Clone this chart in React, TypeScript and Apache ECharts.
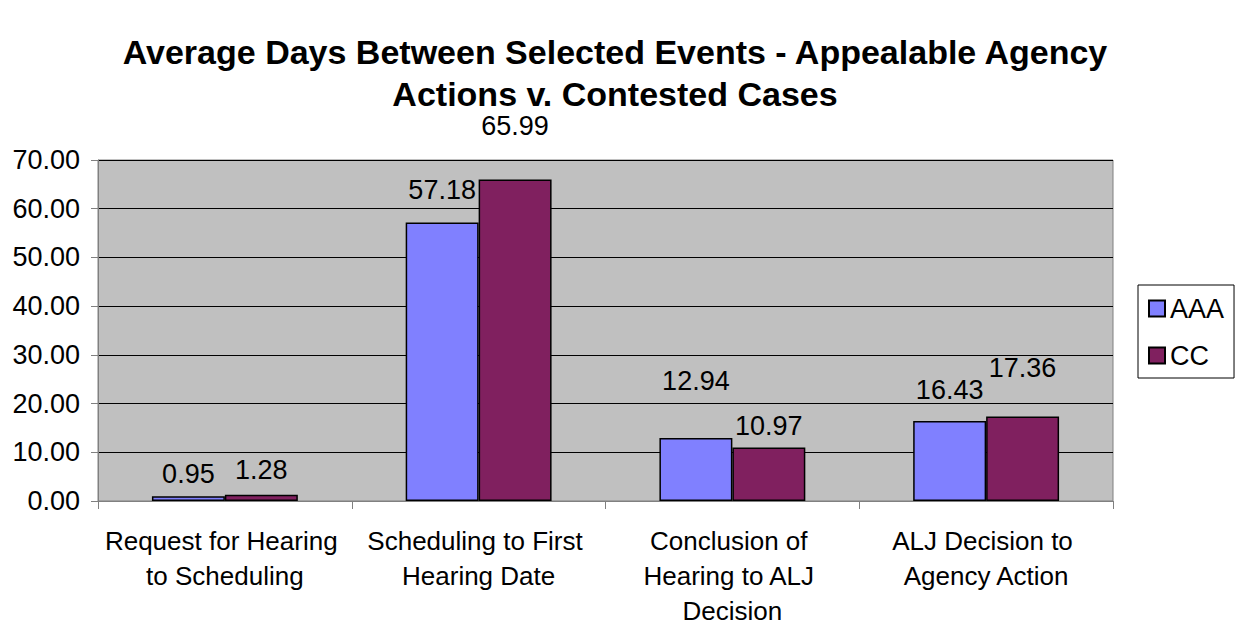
import React, { useEffect, useRef } from "react";
import * as echarts from "echarts";

const titleText = "Average Days Between Selected Events - Appealable Agency\nActions v. Contested Cases";
const categories = [
  "Request for Hearing to Scheduling",
  "Scheduling to First Hearing Date",
  "Conclusion of Hearing to ALJ Decision",
  "ALJ Decision to Agency Action",
];
const seriesNames = ["AAA", "CC"];
const aaaValues = [0.95, 57.18, 12.94, 16.43];
const ccValues = [1.28, 65.99, 10.97, 17.36];
// vertical nudges of the data labels, as placed in the original
const aaaLabelShift = [-4, -14, -38, -12];
const ccLabelShift = [-6, -35, -3, -30];

const FONT = "Arial, 'Liberation Sans', sans-serif";

export default function App() {
  const ref = useRef<HTMLDivElement>(null);
  useEffect(() => {
    document.body.style.margin = "0";
    if (!ref.current) return;
    const chart = echarts.init(ref.current, null, { renderer: "svg" });
    const mk = (vals: number[], shifts: number[]) =>
      vals.map((v, i) => ({ value: v, label: { offset: [0, shifts[i]] } }));
    const labelStyle = {
      show: true,
      position: "top",
      fontFamily: FONT,
      fontSize: 27,
      color: "#000",
      formatter: (p: any) => Number(p.value).toFixed(2),
    };
    chart.setOption({
      animation: false,
      backgroundColor: "#ffffff",
      textStyle: { fontFamily: FONT },
      title: {
        text: titleText,
        left: 615,
        top: 31,
        padding: 0,
        textAlign: "center",
        textStyle: {
          fontFamily: FONT,
          fontSize: 34,
          fontWeight: "bold",
          color: "#000",
          lineHeight: 42,
        },
      },
      legend: {
        orient: "vertical",
        left: 1138,
        top: 285,
        padding: [10, 10, 9, 10],
        itemWidth: 16,
        itemHeight: 16,
        itemGap: 20,
        itemTextGap: 9,
        icon: "rect",
        borderColor: "#000",
        borderWidth: 1,
        backgroundColor: "#fff",
        textStyle: { fontFamily: FONT, fontSize: 27, color: "#000" },
        data: seriesNames,
      },
      grid: {
        left: 98,
        right: 130,
        top: 160,
        bottom: 126,
        outerBoundsMode: "none",
        containLabel: false,
        show: true,
        backgroundColor: "#C0C0C0",
        borderColor: "#808080",
        borderWidth: 1,
      },
      xAxis: {
        type: "category",
        data: categories,
        axisLine: { lineStyle: { color: "#808080", width: 1 } },
        axisTick: { show: true, length: 8, lineStyle: { color: "#808080" } },
        axisLabel: {
          fontFamily: FONT,
          fontSize: 26,
          lineHeight: 35,
          color: "#000",
          margin: 22,
          width: 250,
          overflow: "break",
          interval: 0,
        },
      },
      yAxis: {
        type: "value",
        min: 0,
        max: 70,
        interval: 10,
        axisLine: { show: true, lineStyle: { color: "#808080", width: 1 } },
        axisTick: { show: true, length: 7, lineStyle: { color: "#808080" } },
        splitLine: { show: true, lineStyle: { color: "#000", width: 1 } },
        axisLabel: {
          fontFamily: FONT,
          fontSize: 27,
          color: "#000",
          margin: 18,
          formatter: (v: number) => v.toFixed(2),
        },
      },
      series: [
        {
          name: seriesNames[0],
          type: "bar",
          data: mk(aaaValues, aaaLabelShift),
          barGap: "0%",
          barCategoryGap: "42.5%",
          itemStyle: { color: "#8080FF", borderColor: "#000", borderWidth: 1.5 },
          label: labelStyle,
        },
        {
          name: seriesNames[1],
          type: "bar",
          data: mk(ccValues, ccLabelShift),
          barGap: "0%",
          barCategoryGap: "42.5%",
          itemStyle: { color: "#80205F", borderColor: "#000", borderWidth: 1.5 },
          label: labelStyle,
        },
      ],
    });
    return () => chart.dispose();
  }, []);
  return <div ref={ref} style={{ width: 1243, height: 627 }} />;
}
